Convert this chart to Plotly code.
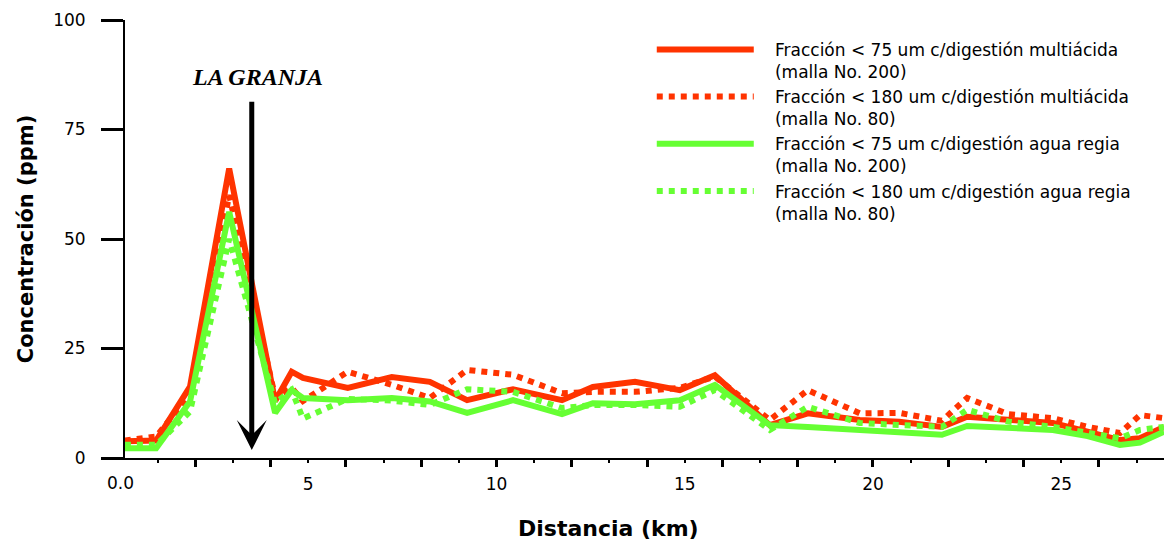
import plotly.graph_objects as go

# Distance along the profile (km)
distancia_km = [0.13, 0.96, 1.86, 2.9, 4.12, 4.56, 4.86, 6.05, 7.22, 8.23, 9.22, 10.44,
                11.74, 12.56, 13.68, 14.87, 15.8, 17.26, 18.27, 19.65, 20.7, 21.83,
                22.5, 23.6, 24.78, 25.7, 26.56, 27.09, 27.73]

# Concentration (ppm)
multi_75 = [3.8, 4.0, 16.3, 66.1, 13.0, 19.7, 18.3, 16.0, 18.5, 17.4, 13.2, 15.7,
            13.2, 16.2, 17.4, 15.5, 18.9, 7.5, 10.2, 8.7, 8.3, 7.1,
            9.4, 8.7, 8.0, 6.0, 4.1, 4.5, 7.1]
multi_180 = [4.0, 4.9, 14.5, 60.0, 14.0, 16.0, 13.0, 19.7, 16.7, 13.7, 20.1, 19.0,
             14.8, 15.1, 15.1, 16.0, 18.6, 8.7, 15.5, 10.2, 10.3, 8.5,
             13.7, 10.0, 9.1, 7.1, 5.7, 9.8, 9.1]
regia_75 = [2.2, 2.2, 12.9, 56.2, 10.3, 15.5, 13.7, 13.2, 13.7, 12.9, 10.3, 13.2,
            10.0, 12.5, 12.3, 13.2, 16.7, 7.5, 7.1, 6.4, 6.0, 5.3,
            7.3, 6.9, 6.4, 5.0, 3.0, 3.5, 6.0]
regia_180 = [3.0, 3.0, 10.6, 50.0, 12.5, 15.5, 9.0, 13.5, 13.1, 12.1, 15.7, 15.1,
             11.4, 12.1, 12.1, 11.7, 15.5, 6.4, 11.7, 8.0, 7.5, 7.1,
             11.0, 8.3, 7.1, 5.7, 4.5, 6.4, 7.1]

PAD = "\u00a0\u00a0\u00a0"
series_names = [
    PAD + "Fracción < 75 um c/digestión multiácida<br>" + PAD + "(malla No. 200)",
    PAD + "Fracción < 180 um c/digestión multiácida<br>" + PAD + "(malla No. 80)",
    PAD + "Fracción < 75 um c/digestión agua regia<br>" + PAD + "(malla No. 200)",
    PAD + "Fracción < 180 um c/digestión agua regia<br>" + PAD + "(malla No. 80)",
]
x_tick_vals = [5, 10, 15, 20, 25]
x_tick_text = ["5", "10", "15", "20", "25"]
y_tick_vals = [0, 25, 50, 75, 100]

RED = "#FF3300"
GREEN = "#66FF33"
FONT = "DejaVu Sans"

fig = go.Figure()
styles = [(multi_75, RED, "solid"), (multi_180, RED, "dot"),
          (regia_75, GREEN, "solid"), (regia_180, GREEN, "dot")]
for (vals, col, dash), name in zip(styles, series_names):
    fig.add_trace(go.Scatter(x=distancia_km, y=vals, mode="lines", name=name,
                             line=dict(color=col, width=6, dash=dash)))

# invisible trace to activate tick-label axis
fig.add_trace(go.Scatter(x=[distancia_km[0]], y=[0], xaxis="x2", mode="lines",
                         showlegend=False, hoverinfo="skip", line=dict(width=0)))

xr = [0.133, 27.73]
fig.update_layout(
    width=1164, height=541,
    margin=dict(l=125, r=0, t=20, b=83),
    plot_bgcolor="white", paper_bgcolor="white",
    font=dict(family=FONT, size=17, color="black"),
    xaxis=dict(range=xr, showline=True, linecolor="black", linewidth=2,
               ticks="outside", tick0=0, dtick=2, ticklen=7, tickwidth=2.5,
               tickcolor="black", showticklabels=False, showgrid=False, zeroline=False,
               minor=dict(dtick=1, tick0=0, ticks="outside", ticklen=3, tickwidth=2,
                          tickcolor="black")),
    xaxis2=dict(range=xr, overlaying="x", anchor="y", side="bottom",
                tickmode="array", tickvals=x_tick_vals, ticktext=x_tick_text,
                ticks="", showline=False, showgrid=False, zeroline=False,
                ticklabelstandoff=14, tickfont=dict(size=17)),
    yaxis=dict(range=[0, 100], tickmode="array", tickvals=y_tick_vals,
               showline=True, linecolor="black", linewidth=2,
               ticks="outside", ticklen=22, tickwidth=2.5, tickcolor="black",
               ticklabelstandoff=12, showgrid=False, zeroline=False,
               tickfont=dict(size=17),
               title=dict(text="<b>Concentración (ppm)</b>", font=dict(size=21), standoff=14)),
    legend=dict(x=0.507, y=0.973, xanchor="left", yanchor="top", valign="top",
                itemwidth=97, font=dict(family=FONT, size=17, color="black"),
                bgcolor="rgba(0,0,0,0)", tracegroupgap=0),
    showlegend=True,
)

fig.add_annotation(x=-0.0048, y=-0.057, xref="paper", yref="paper", text="0.0",
                   showarrow=False, xanchor="center", yanchor="middle", font=dict(size=17))
fig.add_annotation(x=0.465, y=-0.16, xref="paper", yref="paper",
                   text="<b>Distancia (km)</b>", showarrow=False,
                   xanchor="center", yanchor="middle", font=dict(size=22))

fig.add_annotation(x=3.5, y=1.8, xref="x", yref="y", ax=3.5, ay=81.7, axref="x", ayref="y",
                   text="", showarrow=True, arrowhead=3, arrowsize=1.0, arrowwidth=5,
                   arrowcolor="black", standoff=0)
fig.add_annotation(x=3.64, y=87, xref="x", yref="y", text="<b><i>LA GRANJA</i></b>",
                   showarrow=False, font=dict(family="Liberation Serif", size=24, color="black"))

fig.write_html("out.html")
